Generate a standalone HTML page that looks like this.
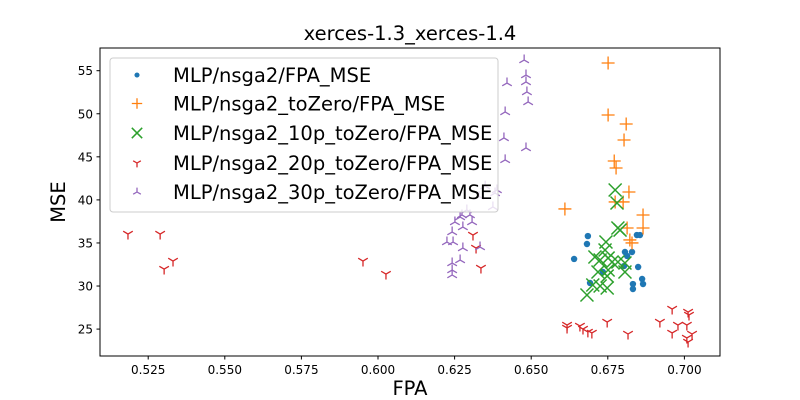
<!DOCTYPE html>
<html><head><meta charset="utf-8"><style>
body{margin:0;background:#fff;}
svg{display:block;font-family:"DejaVu Sans","Liberation Sans",sans-serif;}
</style></head><body>
<svg id="chart" width="800" height="400">
<rect width="800" height="400" fill="#fff"/>
<text x="410" y="40" text-anchor="middle" font-size="19.5">xerces-1.3_xerces-1.4</text>
<g id="plot"></g>
<rect x="100" y="48" width="620" height="308" fill="none" stroke="#000" stroke-width="1"/>
<g id="axes"></g>
<text x="410" y="395" text-anchor="middle" font-size="19.5">FPA</text>
<text x="0" y="0" transform="translate(65,202) rotate(-90)" text-anchor="middle" font-size="19.5">MSE</text>
<g id="legend"></g>
</svg>
<script>
const xTicks=[0.525,0.550,0.575,0.600,0.625,0.650,0.675,0.700];
const xTickLabels=["0.525","0.550","0.575","0.600","0.625","0.650","0.675","0.700"];
const yTicks=[25,30,35,40,45,50,55];
const yTickLabels=["25","30","35","40","45","50","55"];
const seriesNames=["MLP/nsga2/FPA_MSE","MLP/nsga2_toZero/FPA_MSE","MLP/nsga2_10p_toZero/FPA_MSE","MLP/nsga2_20p_toZero/FPA_MSE","MLP/nsga2_30p_toZero/FPA_MSE"];
const blueX=[.6685,.6682,.6640,.6806,.6829,.6813,.6845,.6855,.6734,.6692,.6803,.6849,.6862,.6865,.6832,.6832];
const blueY=[35.80,34.88,33.14,33.95,33.95,33.49,35.92,35.92,31.63,30.35,32.32,32.21,30.82,30.23,30.23,29.65];
const orangeX=[.6751,.6751,.6810,.6803,.6771,.6777,.6819,.6774,.6800,.6610,.6865,.6865,.6813,.6822,.6829];
const orangeY=[55.89,49.86,48.81,46.95,44.52,43.70,40.92,39.76,39.76,38.95,38.25,36.74,36.74,35.35,35.00];
const greenX=[.6774,.6780,.6790,.6783,.6744,.6741,.6708,.6725,.6751,.6764,.6783,.6806,.6718,.6751,.6806,.6748,.6701,.6748,.6725,.6682];
const greenY=[41.15,39.64,36.50,36.74,35.11,34.18,33.37,33.02,33.25,32.79,32.79,32.67,31.63,31.86,31.63,31.16,30.12,29.77,30.00,28.96];
const redX=[.5184,.5289,.5331,.5302,.5951,.6026,.6310,.6320,.6336,.6617,.6617,.6659,.6669,.6685,.6698,.6748,.6816,.6920,.6960,.7012,.7015,.6979,.7008,.6960,.7025,.7008,.7012];
const redY=[36.04,36.04,32.90,31.97,32.90,31.39,35.92,34.41,32.09,25.47,25.13,25.36,25.01,24.67,24.55,25.82,24.43,25.82,27.33,26.98,26.64,25.47,25.47,24.55,24.43,23.97,23.50];
const purpleX=[.6477,.6421,.6483,.6483,.6486,.6490,.6415,.6483,.6411,.6415,.6388,.6375,.6382,.6274,.6300,.6307,.6251,.6277,.6242,.6245,.6225,.6277,.6333,.6268,.6242,.6242,.6242,.6290,.6268,.6330,.6350];
const purpleY=[56.24,53.57,54.50,53.69,52.53,51.37,50.21,46.03,47.19,44.64,41.15,39.18,40.80,38.25,38.25,37.43,37.43,36.85,36.27,35.11,35.11,34.41,34.53,33.02,32.67,31.86,31.28,38.83,38.01,40.40,41.60];

const X=v=>148.2+(v-0.525)*3064;
const Y=v=>70.7+(55-v)*8.613;
const NS="http://www.w3.org/2000/svg";
function mk(t,a,p){const e=document.createElementNS(NS,t);for(const k in a)e.setAttribute(k,a[k]);p.appendChild(e);return e;}
const plot=document.getElementById('plot'),axes=document.getElementById('axes'),leg=document.getElementById('legend');
const colors=["#1f77b4","#ff7f0e","#2ca02c","#d62728","#9467bd"];

function marker(kind,cx,cy,p,s){
  s=s||1;
  let g;
  if(kind===0){g=mk('circle',{cx:cx,cy:cy,r:3.2*s,fill:colors[0]},p);}
  else{
    let d="";
    const a=6.5*s,b=5.5*s,c=4.8*s,e=2.8*s;
    if(kind===1){d=`M${cx-a},${cy}H${cx+a}M${cx},${cy-a}V${cy+a}`;}
    if(kind===2){d=`M${cx-a},${cy-a}L${cx+a},${cy+a}M${cx-a},${cy+a}L${cx+a},${cy-a}`;}
    if(kind===3){d=`M${cx},${cy}V${cy+b}M${cx},${cy}L${cx-c},${cy-e}M${cx},${cy}L${cx+c},${cy-e}`;}
    if(kind===4){d=`M${cx},${cy}V${cy-b}M${cx},${cy}L${cx-c},${cy+e}M${cx},${cy}L${cx+c},${cy+e}`;}
    g=mk('path',{d:d,stroke:colors[kind],'stroke-width':kind===2?1.5:1.3,fill:'none'},p);
  }
  return g;
}
const sets=[[blueX,blueY],[orangeX,orangeY],[greenX,greenY],[redX,redY],[purpleX,purpleY]];
const names=["blue-point","orange-point","green-point","red-point","purple-point"];
sets.forEach((s,k)=>{
  s[0].forEach((x,i)=>{
    const m=marker(k,X(x),Y(s[1][i]),plot);
    
    
  });
});
xTicks.forEach((t,i)=>{
  const l=mk('line',{x1:X(t),x2:X(t),y1:356,y2:359.5,stroke:'#000'},axes);
  
  
  const tx=mk('text',{x:X(t),y:374,'text-anchor':'middle','font-size':12},axes);
  tx.textContent=xTickLabels[i];
  
  
});
yTicks.forEach((t,i)=>{
  const l=mk('line',{x1:96.5,x2:100,y1:Y(t),y2:Y(t),stroke:'#000'},axes);
  
  
  const tx=mk('text',{x:93,y:Y(t)+4.5,'text-anchor':'end','font-size':12},axes);
  tx.textContent=yTickLabels[i];
  
  
});
const box=mk('rect',{x:110,y:58,width:388,height:154,rx:3,fill:'#fff','fill-opacity':0.8,stroke:'#ccc'},leg);


const legY=[75,103.5,133,163,192];
seriesNames.forEach((n,i)=>{
  const cy=legY[i];
  const m=marker(i,137,cy,leg,0.8);
  
  
  const t=mk('text',{x:173,y:cy+7,'font-size':19.5},leg);
  t.textContent=n;
  
  
});
</script>
</body></html>
